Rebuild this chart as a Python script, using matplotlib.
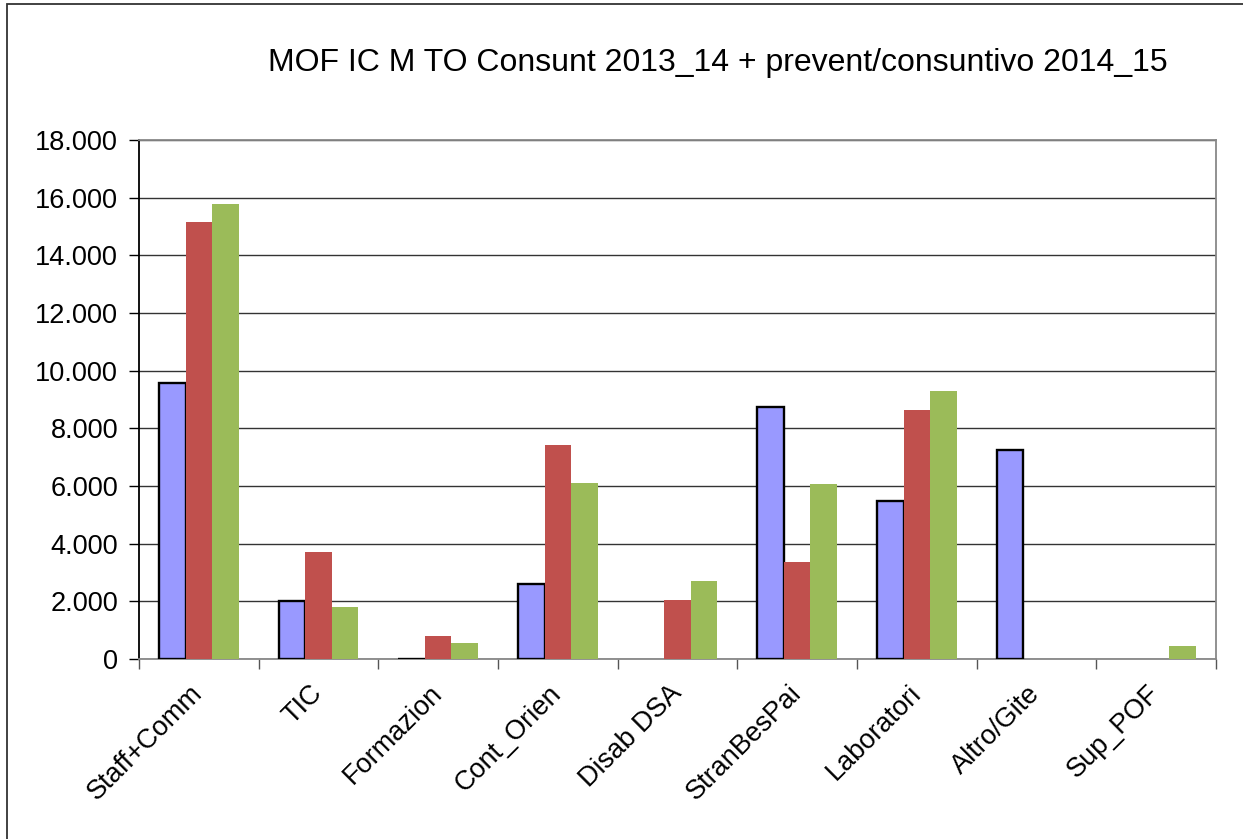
import numpy as np
import matplotlib.pyplot as plt
from matplotlib.patches import Rectangle
from matplotlib.ticker import FuncFormatter, FixedLocator

plt.rcParams["font.family"] = ["Liberation Sans", "DejaVu Sans"]

# dati
categories = ["Staff+Comm", "TIC", "Formazion", "Cont_Orien", "Disab DSA",
              "StranBesPai", "Laboratori", "Altro/Gite", "Sup_POF"]
consunt_2013_14 = [9560, 2000, 0, 2590, np.nan, 8730, 5470, 7240, np.nan]
prevent_2014_15 = [15150, 3720, 800, 7420, 2040, 3380, 8620, np.nan, np.nan]
consunt_2014_15 = [15770, 1810, 570, 6090, 2700, 6070, 9290, np.nan, 440]
title = "MOF IC M TO Consunt 2013_14 + prevent/consuntivo 2014_15"

fig = plt.figure(figsize=(12.43, 8.39), dpi=100)
ax = fig.add_axes([0.1118, 0.2145, 0.8665, 0.6186])

# cornice esterna
fig.patches.append(Rectangle((7 / 1243, -0.1), 1.2, 1 - 4 / 839 + 0.1,
                             transform=fig.transFigure, fill=False,
                             edgecolor="#333333", linewidth=1.3))

x = np.arange(len(categories))
w = 0.222
ax.bar(x - w, consunt_2013_14, w, color="#9999FF", edgecolor="black",
       linewidth=1.7, zorder=3)
ax.bar(x, prevent_2014_15, w, color="#C0504D", zorder=3)
ax.bar(x + w, consunt_2014_15, w, color="#9BBB59", zorder=3)

ax.set_xlim(-0.5, len(categories) - 0.5)
ax.set_ylim(0, 18000)
ax.set_yticks(np.arange(0, 18001, 2000))
ax.yaxis.set_major_formatter(FuncFormatter(lambda v, p: f"{int(v):,}".replace(",", ".")))
ax.grid(axis="y", color="#333333", linewidth=1.0, zorder=0)

ax.set_xticks(x)
ax.set_xticklabels(categories, rotation=45, ha="right", va="center",
                   rotation_mode="anchor")
ax.xaxis.set_minor_locator(FixedLocator(np.arange(-0.5, len(categories), 1)))
ax.tick_params(axis="x", which="major", length=0, pad=22, labelsize=19.5)
ax.tick_params(axis="x", which="minor", length=7, width=1.0, color="#555555")
ax.tick_params(axis="y", length=7, width=1.0, labelsize=19.5, pad=8)

for side in ["top", "right", "bottom"]:
    ax.spines[side].set_color("#888888")
    ax.spines[side].set_linewidth(1.3)
ax.spines["left"].set_color("black")
ax.spines["left"].set_linewidth(1.3)

fig.text(718 / 1243, 1 - 63 / 839, title, ha="center", va="center",
         fontsize=23, color="black")

fig.savefig("out.png", dpi=100)
